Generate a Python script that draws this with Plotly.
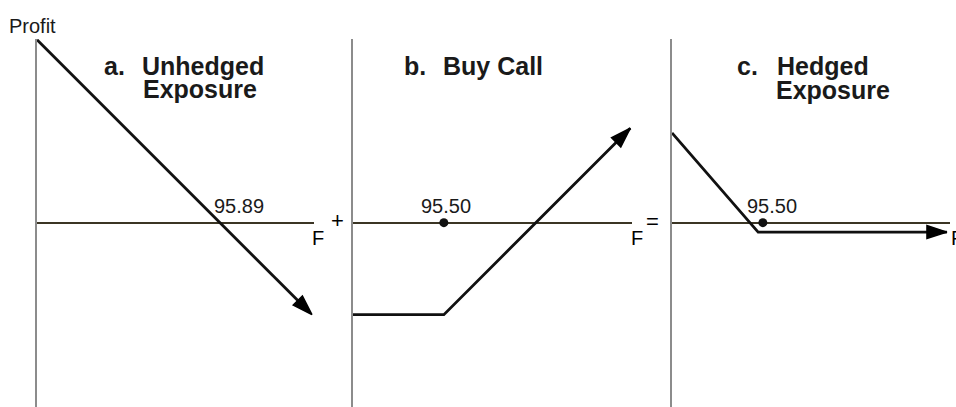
import plotly.graph_objects as go

# Payoff diagrams: futures price F against profit
strike = 95.50
breakeven = 95.89

# a. Unhedged exposure
F_a = [95.115, 96.28]
P_a = [0.775, -0.39]

# b. Buy call (premium 0.39)
F_b = [95.115, 95.50, 96.29]
P_b = [-0.39, -0.39, 0.40]

# c. Hedged exposure
F_c = [95.115, 95.48, 96.28]
P_c = [0.38, -0.04, -0.04]

W, H = 956, 407
PX_PER_UNIT = 236.0
F_MIN = 95.115
Y_RANGE = [-0.781, 0.778]

# panel pixel extents (left edge = vertical axis, right edge = end of F axis)
panels = [(37, 314), (353, 632), (672, 950)]

fig = go.Figure()

AX = dict(showgrid=False, showticklabels=False, ticks="", showline=False, zeroline=False, fixedrange=True)

for i, (p0, p1) in enumerate(panels, start=1):
    sfx = "" if i == 1 else str(i)
    span = (p1 - p0) / PX_PER_UNIT
    fig.update_layout({
        f"xaxis{sfx}": dict(AX, domain=[p0 / W, p1 / W], range=[F_MIN, F_MIN + span], anchor=f"y{sfx}"),
        f"yaxis{sfx}": dict(AX, domain=[0, 1 - 39 / H], range=Y_RANGE, anchor=f"x{sfx}",
                            showline=True, linecolor="#8c8c8c", linewidth=2,
                            zeroline=True, zerolinecolor="#3b3524", zerolinewidth=1.6),
    })


def payoff(F, P, i):
    sfx = "" if i == 1 else str(i)
    n = len(F)
    fig.add_trace(go.Scatter(
        x=F, y=P, mode="lines+markers", xaxis=f"x{sfx}", yaxis=f"y{sfx}",
        line=dict(color="#111111", width=2.8),
        marker=dict(symbol=["arrow"] * n, angleref="previous",
                    size=[0] * (n - 1) + [21], color="#000000", opacity=1,
                    line=dict(width=1.5, color="#000000")),
        cliponaxis=False, hoverinfo="skip", showlegend=False,
    ))


payoff(F_a, P_a, 1)
payoff(F_b, P_b, 2)
payoff(F_c, P_c, 3)

# strike markers
for i in (2, 3):
    fig.add_trace(go.Scatter(
        x=[strike], y=[0], mode="markers", xaxis=f"x{i}", yaxis=f"y{i}",
        marker=dict(size=9, color="#111111"), cliponaxis=False,
        hoverinfo="skip", showlegend=False,
    ))

FONT = "Liberation Sans, Arial, Helvetica, sans-serif"


def label(text, x, y, size, bold=False, xanchor="left", color="#1a1a1a"):
    fig.add_annotation(
        text=f"<b>{text}</b>" if bold else text,
        x=x / W, y=1 - y / H, xref="paper", yref="paper",
        xanchor=xanchor, yanchor="middle", showarrow=False, borderpad=0,
        font=dict(family=FONT, size=size, color=color),
    )


label("Profit", 8, 26, 20)

label("a.", 103, 66, 25, True)
label("Unhedged", 141, 66, 25, True)
label("Exposure", 142, 89, 25, True)

label("b.", 403, 66, 25, True)
label("Buy Call", 442, 66, 25, True)

label("c.", 736, 66, 25, True)
label("Hedged", 776, 66, 25, True)
label("Exposure", 775, 90, 25, True)

# value labels on the F axes
label(f"{breakeven:.2f}", 239, 206, 20, xanchor="center")
label(f"{strike:.2f}", 446, 206, 20, xanchor="center")
label(f"{strike:.2f}", 772, 206, 20, xanchor="center")

# axis names and operators between panels
label("F", 318, 238, 20, xanchor="center", color="#000000")
label("+", 337, 220, 22, xanchor="center", color="#000000")
label("F", 637, 238, 20, xanchor="center", color="#000000")
label("=", 652, 221, 22, xanchor="center", color="#000000")
label("F", 950, 238, 20, color="#000000")

fig.update_layout(
    width=W, height=H,
    margin=dict(l=0, r=0, t=0, b=0),
    paper_bgcolor="white", plot_bgcolor="white",
    showlegend=False,
)

fig.write_html("out.html", config={"displayModeBar": False})
